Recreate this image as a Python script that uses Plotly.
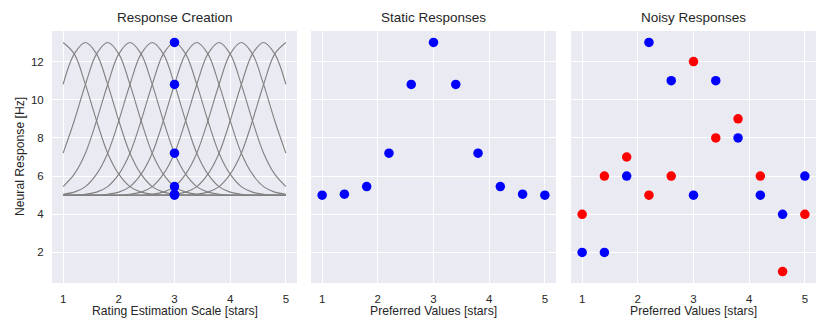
import plotly.graph_objects as go

# ---- data ----
centers = [1.0, 1.4, 1.8, 2.2, 2.6, 3.0, 3.4, 3.8, 4.2, 4.6, 5.0]
# tuning-curve profile: response vs. distance from preferred value (step 0.2)
profile_offsets = [0.0, 0.2, 0.4, 0.6, 0.8, 1.0, 1.2, 1.4, 1.6, 1.8, 2.0,
                   2.2, 2.4, 2.6, 2.8, 3.0, 3.2, 3.4, 3.6, 3.8, 4.0]
profile_values = [13.0, 12.4, 10.8, 8.9, 7.2, 6.1, 5.45, 5.16, 5.05, 5.01, 5.0,
                  5.0, 5.0, 5.0, 5.0, 5.0, 5.0, 5.0, 5.0, 5.0, 5.0]

stimulus_x = [3, 3, 3, 3, 3, 3]
stimulus_y = [13.0, 10.8, 7.2, 5.45, 5.05, 5.0]

static_x = [1.0, 1.4, 1.8, 2.2, 2.6, 3.0, 3.4, 3.8, 4.2, 4.6, 5.0]
static_y = [5.0, 5.05, 5.45, 7.2, 10.8, 13.0, 10.8, 7.2, 5.45, 5.05, 5.0]

noisy_x = [1.0, 1.4, 1.8, 2.2, 2.6, 3.0, 3.4, 3.8, 4.2, 4.6, 5.0]
noisy_blue = [2, 2, 6, 13, 11, 5, 11, 8, 5, 4, 6]
noisy_red = [4, 6, 7, 5, 6, 12, 8, 9, 6, 1, 4]

titles = ["Response Creation", "Static Responses", "Noisy Responses"]
xlabels = ["Rating Estimation Scale [stars]", "Preferred Values [stars]", "Preferred Values [stars]"]
ylabel = "Neural Response [Hz]"
xticks = [1, 2, 3, 4, 5]
yticks = [2, 4, 6, 8, 10, 12]

# ---- figure ----
FONT = "Liberation Sans, Arial, sans-serif"
TXT = "#262626"
BG = "#EAEAF2"
W, H = 830, 332
ML, MR, MT, MB = 52, 14, 31, 49
PW = W - ML - MR
PH = H - MT - MB
domains = [(0, 245), (259, 504), (519, 764)]

fig = go.Figure()

# tuning curves
full_off = [-o for o in profile_offsets[::-1]] + profile_offsets[1:]
full_val = profile_values[::-1] + profile_values[1:]
for c in centers:
    xs, ys = [], []
    for o, v in zip(full_off, full_val):
        x = round(c + o, 6)
        if 1 - 1e-9 <= x <= 5 + 1e-9:
            xs.append(x)
            ys.append(v)
    fig.add_trace(go.Scatter(x=xs, y=ys, mode="lines", line=dict(color="#808080", width=1.1, shape="spline", smoothing=1.0),
                             xaxis="x", yaxis="y", showlegend=False, hoverinfo="skip"))

MS = 9.5
fig.add_trace(go.Scatter(x=stimulus_x, y=stimulus_y, mode="markers",
                         marker=dict(color="#0000FF", size=MS, line=dict(width=0)),
                         xaxis="x", yaxis="y", showlegend=False))
fig.add_trace(go.Scatter(x=static_x, y=static_y, mode="markers",
                         marker=dict(color="#0000FF", size=MS, line=dict(width=0)),
                         xaxis="x2", yaxis="y2", showlegend=False))
fig.add_trace(go.Scatter(x=noisy_x, y=noisy_blue, mode="markers",
                         marker=dict(color="#0000FF", size=MS, line=dict(width=0)),
                         xaxis="x3", yaxis="y3", showlegend=False))
fig.add_trace(go.Scatter(x=noisy_x, y=noisy_red, mode="markers",
                         marker=dict(color="#FF0000", size=MS, line=dict(width=0)),
                         xaxis="x3", yaxis="y3", showlegend=False))

layout = dict(width=W, height=H, margin=dict(l=ML, r=MR, t=MT, b=MB, pad=0, autoexpand=False),
              paper_bgcolor="white", plot_bgcolor=BG,
              font=dict(family=FONT, color=TXT, size=11), showlegend=False)

annotations = []
for i in range(3):
    sfx = "" if i == 0 else str(i + 1)
    d0, d1 = domains[i]
    layout["xaxis" + sfx] = dict(
        domain=[d0 / PW, d1 / PW], range=[0.8, 5.2], tickvals=xticks,
        showgrid=True, gridcolor="white", gridwidth=1, zeroline=False,
        ticks="outside", ticklen=5, tickcolor="rgba(0,0,0,0)", automargin=False,
        tickfont=dict(size=11.5, color=TXT, family=FONT),
        anchor="y" + sfx, showline=False)
    layout["yaxis" + sfx] = dict(
        range=[0.4, 13.6], tickvals=yticks, showgrid=True, gridcolor="white", gridwidth=1,
        zeroline=False, ticks="outside", ticklen=5, tickcolor="rgba(0,0,0,0)", automargin=False,
        showticklabels=(i == 0), tickfont=dict(size=11.5, color=TXT, family=FONT),
        anchor="x" + sfx, showline=False)
    annotations.append(dict(text=titles[i], x=(d0 + d1) / 2 / PW, y=1, xref="paper", yref="paper",
                            xanchor="center", yanchor="bottom", yshift=4, showarrow=False,
                            font=dict(size=13.5, color=TXT, family=FONT)))
    annotations.append(dict(text=xlabels[i], x=(d0 + d1) / 2 / PW, y=-27.5 / PH, xref="paper", yref="paper",
                            xanchor="center", yanchor="middle", showarrow=False,
                            font=dict(size=12.2, color=TXT, family=FONT)))
annotations.append(dict(text=ylabel, x=(20 - ML) / PW, y=0.5, xref="paper", yref="paper",
                        xanchor="center", yanchor="middle", textangle=-90, showarrow=False,
                        font=dict(size=12.2, color=TXT, family=FONT)))
layout["annotations"] = annotations
fig.update_layout(**layout)

fig.write_html("out.html", config={"displayModeBar": False},
               post_script="document.body.style.margin='0';")
